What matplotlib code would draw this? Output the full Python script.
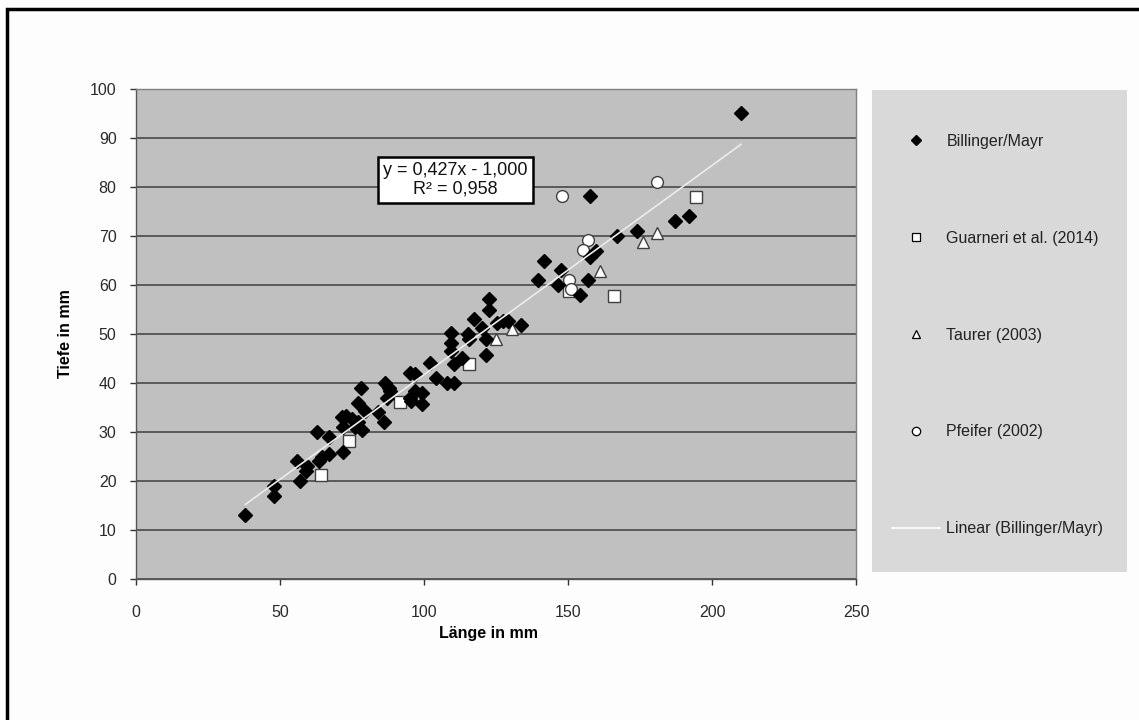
import matplotlib
matplotlib.use('Agg')
import matplotlib.pyplot as plt
from matplotlib.lines import Line2D
from matplotlib.patches import Rectangle

plt.rcParams['font.family'] = ['Liberation Sans', 'DejaVu Sans']

# Billinger/Mayr: Laenge / Tiefe in mm
bm_len = [38, 48, 48, 56, 57, 59.5, 59, 63, 63.5, 64.5, 67, 67, 72, 71.5, 73, 75,
          77, 72, 78.5, 76, 78, 77, 79.5, 84, 86, 86.6, 87.7, 88.3, 87, 95, 97,
          97, 99.4, 95.5, 99.4, 95.3, 102, 104.3, 108, 110.4, 110.4, 113.3, 109.4,
          109.4, 109.4, 115.3, 115.6, 117.4, 120.3, 121.5, 121.5, 122.6, 122.6,
          125.5, 127.5, 129, 133.6, 139.5, 141.7, 146.4, 147.7, 156.8, 154, 157.8,
          157.5, 159.8, 167, 174, 187, 192, 210]
bm_tiefe = [13, 19, 17, 24, 20, 23, 22, 30, 24, 25, 29, 25.5, 26, 33, 33.3, 32.6,
            32, 31, 30.5, 31, 38.9, 36, 34.3, 34, 32, 40, 39, 38.4, 37, 42, 41.8,
            38.4, 38, 36.4, 35.8, 37, 44, 41, 40.1, 40.1, 43.8, 45.2, 50.2,
            48.2, 46.6, 50.1, 48.9, 53, 51.2, 49, 45.8, 57.1, 55, 52.3, 52.6, 52.6,
            51.9, 61.1, 65, 60.1, 63, 61.1, 58, 78.2, 65.7, 67, 70.1, 71.1, 73,
            74.1, 95]

gu_len = [64.3, 74, 91.5, 115.6, 150.5, 166, 194.5]
gu_tiefe = [21.2, 28.2, 36.1, 43.8, 58.7, 57.7, 77.9]

ta_len = [125, 130.7, 161, 176, 181]
ta_tiefe = [49, 51.1, 62.8, 68.7, 70.7]

pf_len = [148, 181, 157, 155.2, 150.2, 151]
pf_tiefe = [78.2, 81, 69.1, 67.1, 61.1, 59.1]

slope = 0.427
intercept = -1.0
fit_label = 'y = 0,427x - 1,000\nR² = 0,958'

fig = plt.figure(figsize=(11.39, 7.2), dpi=100)
fig.patch.set_facecolor('#fdfdfd')
ax = fig.add_axes([136 / 1139, 1 - 579 / 720, 720 / 1139, 490 / 720])
ax.set_facecolor('#c0c0c0')

# horizontal grid, Excel style
ax.set_axisbelow(True)
ax.yaxis.grid(True, color='#5a5a5a', lw=1.4)
ax.xaxis.grid(False)

ax.plot(gu_len, gu_tiefe, 's', ms=8.5, mfc='white', mec='#404040', mew=1.0,
        label='Guarneri et al. (2014)', zorder=3)
ax.plot(ta_len, ta_tiefe, '^', ms=9, mfc='white', mec='#404040', mew=1.0,
        label='Taurer (2003)', zorder=3)
ax.plot(pf_len, pf_tiefe, 'o', ms=8.5, mfc='white', mec='#404040', mew=1.0,
        label='Pfeifer (2002)', zorder=3)
ax.plot(bm_len, bm_tiefe, 'D', ms=7, color='black',
        label='Billinger/Mayr', zorder=4)

xfit = [min(bm_len), max(bm_len)]
yfit = [slope * v + intercept for v in xfit]
ax.plot(xfit, yfit, color='#ececec', lw=1.2, zorder=5,
        label='Linear (Billinger/Mayr)')

ax.text(111, 81.4, fit_label, ha='center', va='center', fontsize=13,
        color='#111111', linespacing=1.1, zorder=6,
        bbox=dict(boxstyle='square,pad=0.28', fc='white', ec='black', lw=1.8))

ax.set_xlim(0, 250)
ax.set_ylim(0, 100)
ax.set_xticks(range(0, 251, 50))
ax.set_yticks(range(0, 101, 10))
ax.tick_params(axis='both', direction='out', length=4, width=1,
               color='#333333', labelsize=11.5, labelcolor='#2a2a2a')
ax.tick_params(axis='x', pad=15)
ax.tick_params(axis='y', pad=10)
for sp in ax.spines.values():
    sp.set_color('#808080')
    sp.set_linewidth(1.0)
ax.spines['left'].set_color('#555555')
ax.spines['bottom'].set_color('#555555')

ax.set_xlabel('Länge in mm', fontsize=11.5, fontweight='bold')
ax.set_ylabel('Tiefe in mm', fontsize=11.5, fontweight='bold')
ax.xaxis.set_label_coords(0.49, -0.095)
ax.yaxis.set_label_coords(-0.088, 0.5)

# legend panel
fig.add_artist(Rectangle((872 / 1139, 1 - 572 / 720), 255 / 1139, 482 / 720,
                         transform=fig.transFigure, fc='#d9d9d9', ec='none'))
handles = [
    Line2D([], [], ls='none', marker='D', ms=5, color='black'),
    Line2D([], [], ls='none', marker='s', ms=6, mfc='white', mec='black', mew=0.9),
    Line2D([], [], ls='none', marker='^', ms=6, mfc='white', mec='black', mew=0.9),
    Line2D([], [], ls='none', marker='o', ms=6, mfc='white', mec='black', mew=0.9),
    Line2D([], [], color='white', lw=1.2),
]
labels = ['Billinger/Mayr', 'Guarneri et al. (2014)', 'Taurer (2003)',
          'Pfeifer (2002)', 'Linear (Billinger/Mayr)']
fig.legend(handles, labels, loc='upper left', bbox_to_anchor=(884 / 1139, 1 - 126 / 720),
           frameon=False, fontsize=11.5, labelspacing=5.12, handlelength=3.0,
           handletextpad=0.4, borderpad=0, labelcolor='#222222')

# outer frame of the chart (clipped on right and bottom)
fig.add_artist(Rectangle((7 / 1139, -0.2), 1.2, 1 - 9 / 720 + 0.2,
                         transform=fig.transFigure, fill=False, ec='black', lw=2.5))

fig.savefig('out.png', dpi=100, facecolor=fig.get_facecolor())
